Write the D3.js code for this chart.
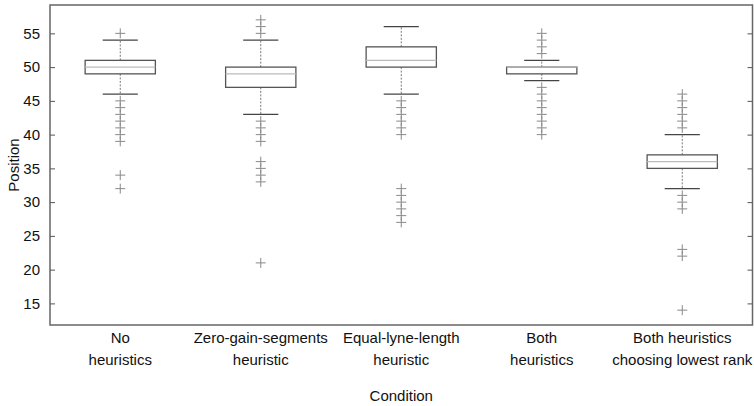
<!DOCTYPE html>
<html>
<head>
<meta charset="utf-8">
<script src="https://cdn.jsdelivr.net/npm/d3@7"></script>
<style>
  html, body { margin: 0; padding: 0; background: #fff; }
  svg text { font-family: "Liberation Sans", Arial, Helvetica, sans-serif; fill: #111; }
</style>
</head>
<body>
<svg id="chart" width="754" height="406"></svg>
<script>
// Condition labels (two lines each)
const categories = [
  ["No", "heuristics"],
  ["Zero-gain-segments", "heuristic"],
  ["Equal-lyne-length", "heuristic"],
  ["Both", "heuristics"],
  ["Both heuristics", "choosing lowest rank"]
];

// Box statistics per condition
const q1       = [49, 47, 50, 49, 35];
const medians  = [50, 49, 51, 50, 36];
const q3       = [51, 50, 53, 50, 37];
const whiskLo  = [46, 43, 46, 48, 32];
const whiskHi  = [54, 54, 56, 51, 40];

// Outlying positions per condition
const outliers = [
  [55, 45, 44, 43, 42, 41, 40, 39, 34, 32],
  [57, 56, 55, 42, 41, 40, 39, 36, 35, 34, 33, 21],
  [45, 44, 43, 42, 41, 40, 32, 31, 30, 29, 28, 27],
  [55, 54, 53, 52, 47, 46, 45, 44, 43, 42, 41, 40],
  [46, 45, 44, 43, 42, 41, 31, 30, 29, 23, 22, 14]
];

const yTicks = [15, 20, 25, 30, 35, 40, 45, 50, 55];

const svg = d3.select("#chart");
const margin = { left: 50, right: 1.5, top: 5, bottom: 81 };
const W = 754, H = 406;
const x0 = margin.left, x1 = W - margin.right;
const y0 = margin.top, y1 = H - margin.bottom;

const x = d3.scaleLinear().domain([0.5, categories.length + 0.5]).range([x0, x1]);
const y = d3.scaleLinear().domain([11.8, 59.2]).range([y1, y0]);

const boxHalf = 0.25, capHalf = 0.125;

const g = svg.append("g");

// Whiskers (dashed)
categories.forEach((c, i) => {
  const cx = x(i + 1);
  g.append("line").attr("x1", cx).attr("x2", cx)
    .attr("y1", y(q3[i])).attr("y2", y(whiskHi[i]))
    .attr("stroke", "#777").attr("stroke-width", 1).attr("stroke-dasharray", "2,1.5");
  g.append("line").attr("x1", cx).attr("x2", cx)
    .attr("y1", y(q1[i])).attr("y2", y(whiskLo[i]))
    .attr("stroke", "#777").attr("stroke-width", 1).attr("stroke-dasharray", "2,1.5");
  // whisker caps
  [whiskHi[i], whiskLo[i]].forEach(v => {
    g.append("line")
      .attr("x1", x(i + 1 - capHalf)).attr("x2", x(i + 1 + capHalf))
      .attr("y1", y(v)).attr("y2", y(v))
      .attr("stroke", "#444").attr("stroke-width", 1.3);
  });
  // box
  g.append("rect")
    .attr("x", x(i + 1 - boxHalf)).attr("width", x(i + 1 + boxHalf) - x(i + 1 - boxHalf))
    .attr("y", y(q3[i])).attr("height", y(q1[i]) - y(q3[i]))
    .attr("fill", "none").attr("stroke", "#555").attr("stroke-width", 1.3);
  // median
  g.append("line")
    .attr("x1", x(i + 1 - boxHalf)).attr("x2", x(i + 1 + boxHalf))
    .attr("y1", y(medians[i])).attr("y2", y(medians[i]))
    .attr("stroke", "#bbb").attr("stroke-width", 1.3);
  // outliers as '+' markers
  outliers[i].forEach(v => {
    const py = y(v);
    g.append("path")
      .attr("d", `M${cx - 5},${py}H${cx + 5}M${cx},${py - 5}V${py + 5}`)
      .attr("stroke", "#888").attr("stroke-width", 1).attr("fill", "none");
  });
});

// Frame
svg.append("rect")
  .attr("x", x0).attr("y", y0).attr("width", x1 - x0).attr("height", y1 - y0)
  .attr("fill", "none").attr("stroke", "#666").attr("stroke-width", 1.5);

// Left axis: inward ticks
const left = svg.append("g").attr("transform", `translate(${x0},0)`)
  .call(d3.axisLeft(y).tickValues(yTicks).tickSizeInner(-5).tickSizeOuter(0).tickPadding(10));
left.select(".domain").remove();
left.selectAll(".tick line").attr("stroke", "#555");
left.selectAll(".tick text").attr("font-size", 15).style("fill", "#111");

// Right axis: mirrored inward ticks, no labels
const right = svg.append("g").attr("transform", `translate(${x1},0)`)
  .call(d3.axisRight(y).tickValues(yTicks).tickSizeInner(-5).tickSizeOuter(0).tickFormat(""));
right.select(".domain").remove();
right.selectAll(".tick line").attr("stroke", "#555");

// Category labels
categories.forEach((lines, i) => {
  const t = svg.append("text")
    .attr("x", x(i + 1)).attr("y", 343)
    .attr("text-anchor", "middle").attr("font-size", 15);
  lines.forEach((ln, k) => {
    t.append("tspan").attr("x", x(i + 1)).attr("dy", k === 0 ? 0 : 22).text(ln);
  });
});

// Axis titles
svg.append("text")
  .attr("x", (x0 + x1) / 2).attr("y", 401)
  .attr("text-anchor", "middle").attr("font-size", 15).text("Condition");

svg.append("text")
  .attr("transform", `translate(19,${(y0 + y1) / 2}) rotate(-90)`)
  .attr("text-anchor", "middle").attr("font-size", 15).text("Position");
</script>
</body>
</html>
